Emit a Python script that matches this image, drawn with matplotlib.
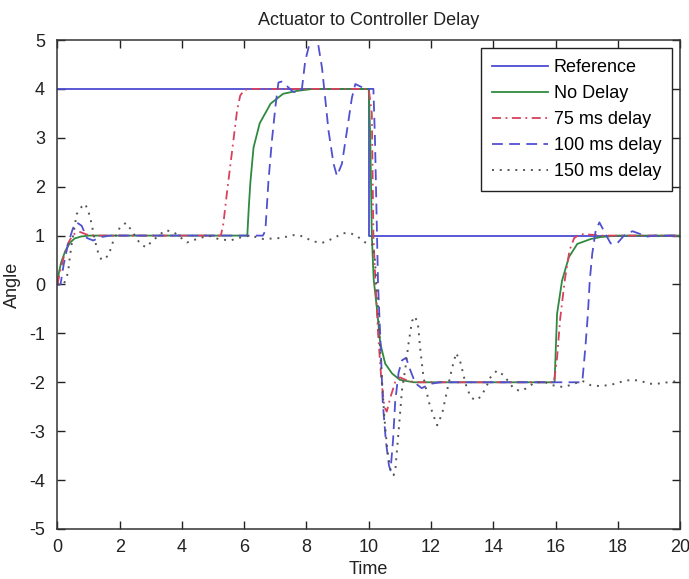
import matplotlib
matplotlib.use("Agg")
import matplotlib.pyplot as plt
import numpy as np

plt.rcParams['font.family'] = ['Liberation Sans', 'DejaVu Sans']
plt.rcParams['axes.unicode_minus'] = False

title = "Actuator to Controller Delay"
xlabel = "Time"
ylabel = "Angle"
labels = ["Reference", "No Delay", "75 ms delay", "100 ms delay", "150 ms delay"]
xticks = [0, 2, 4, 6, 8, 10, 12, 14, 16, 18, 20]
yticks = [-5, -4, -3, -2, -1, 0, 1, 2, 3, 4, 5]

reference = [(0, 4), (10, 4), (10, 1), (20, 1)]

no_delay = [(0, 0), (0.05, 0.25), (0.12, 0.45), (0.25, 0.68), (0.4, 0.85), (0.55, 0.94),
            (0.75, 0.98), (1.0, 1.0), (6.1, 1.0), (6.15, 1.6), (6.2, 2.1), (6.3, 2.8),
            (6.5, 3.3), (6.85, 3.7), (7.25, 3.9), (7.7, 3.96), (8.2, 4.0), (10.0, 4.0),
            (10.05, 3.0), (10.1, 1.0), (10.16, 0.1), (10.27, -0.53), (10.37, -1.2),
            (10.53, -1.62), (10.75, -1.82), (11.0, -1.95), (11.45, -2.0), (15.97, -2.0),
            (16.05, -0.6), (16.21, 0.08), (16.43, 0.56), (16.7, 0.83), (17.13, 0.93),
            (17.45, 0.97), (18.0, 1.0), (20, 1.0)]

delay_75 = [(0, 0), (0.1, 0.3), (0.2, 0.55), (0.35, 0.85), (0.5, 1.02), (0.7, 1.08),
            (0.95, 1.02), (1.2, 1.0), (5.25, 1.0), (5.33, 1.24), (5.45, 1.9), (5.6, 2.67),
            (5.77, 3.55), (5.87, 3.86), (6.0, 3.98), (6.2, 4.0), (10.0, 4.0), (10.1, 3.5),
            (10.15, 1.0), (10.22, 0.0), (10.3, -1.0), (10.4, -1.9), (10.5, -2.5),
            (10.58, -2.6), (10.7, -2.3), (10.85, -2.0), (11.0, -1.9), (11.3, -1.98),
            (11.6, -2.0), (15.95, -2.0), (16.05, -1.5), (16.15, -0.7), (16.3, 0.1),
            (16.45, 0.7), (16.6, 0.95), (16.8, 1.03), (17.1, 1.02), (17.5, 1.0), (20, 1.0)]

delay_100 = [(0, 0), (0.1, 0.0), (0.2, 0.4), (0.35, 0.85), (0.5, 1.15), (0.62, 1.27),
             (0.78, 1.2), (0.95, 0.95), (1.15, 0.9), (1.4, 0.97), (1.7, 1.0), (6.6, 1.0),
             (6.68, 1.1), (6.78, 2.12), (6.89, 2.94), (7.0, 3.62), (7.1, 4.13), (7.2, 4.15),
             (7.37, 4.06), (7.55, 3.95), (7.7, 3.92), (7.85, 3.98), (7.96, 4.57),
             (8.12, 4.98), (8.25, 5.1), (8.38, 4.9), (8.5, 4.43), (8.6, 3.82), (8.71, 3.14),
             (8.87, 2.47), (8.98, 2.22), (9.14, 2.47), (9.3, 3.14), (9.46, 3.82),
             (9.57, 4.1), (9.73, 4.05), (9.9, 4.0), (10.15, 4.0), (10.2, 3.0), (10.25, 1.5),
             (10.3, 0.0), (10.38, -1.2), (10.45, -2.4), (10.55, -3.2), (10.65, -3.7),
             (10.7, -3.8), (10.78, -3.2), (10.85, -2.4), (10.96, -1.8), (11.07, -1.55),
             (11.2, -1.5), (11.34, -1.76), (11.5, -2.02), (11.7, -2.12), (12.0, -2.03),
             (12.3, -2.0), (16.8, -2.0), (16.86, -1.99), (16.96, -1.28), (17.04, -0.6),
             (17.1, 0.08), (17.18, 0.63), (17.29, 1.1), (17.41, 1.27), (17.55, 1.1),
             (17.77, 0.84), (17.98, 0.84), (18.2, 1.0), (18.47, 1.09), (18.73, 1.03),
             (18.95, 0.98), (19.2, 1.0), (20, 1.0)]

delay_150 = [(0, 0), (0.2, 0.0), (0.3, 0.15), (0.35, 0.29), (0.4, 0.56), (0.46, 0.83),
             (0.62, 1.44), (0.78, 1.59), (0.89, 1.65), (0.99, 1.51), (1.1, 1.24),
             (1.16, 1.04), (1.26, 0.76), (1.32, 0.63), (1.42, 0.5), (1.64, 0.59),
             (1.8, 0.9), (2.01, 1.17), (2.2, 1.26), (2.39, 1.1), (2.66, 0.83), (2.85, 0.76),
             (3.03, 0.88), (3.46, 1.11), (3.72, 1.08), (4.16, 0.86), (4.48, 0.93),
             (4.85, 1.0), (5.17, 0.93), (5.55, 0.9), (5.87, 0.96), (6.2, 1.0), (6.62, 0.93),
             (7.16, 0.95), (7.59, 1.01), (7.8, 1.0), (8.23, 0.88), (8.5, 0.85), (8.71, 0.9),
             (9.19, 1.05), (9.41, 1.05), (9.62, 0.99), (9.89, 0.86), (10.1, 0.84),
             (10.2, 0.5), (10.3, -0.5), (10.4, -1.7), (10.5, -2.7), (10.6, -3.4),
             (10.7, -3.8), (10.8, -3.9), (10.86, -3.75), (10.96, -3.0), (11.07, -2.15),
             (11.18, -1.7), (11.28, -1.2), (11.39, -0.75), (11.48, -0.65), (11.58, -0.8),
             (11.66, -1.35), (11.76, -1.9), (11.93, -2.4), (12.09, -2.7), (12.2, -2.88),
             (12.36, -2.64), (12.52, -2.16), (12.68, -1.7), (12.81, -1.4), (12.95, -1.6),
             (13.11, -2.03), (13.27, -2.3), (13.43, -2.37), (13.59, -2.3), (13.75, -2.13),
             (13.91, -1.9), (14.12, -1.76), (14.34, -1.86), (14.66, -2.13), (14.87, -2.18),
             (15.04, -2.13), (15.3, -2.02), (15.6, -1.98), (15.9, -2.06), (16.27, -2.1),
             (16.86, -1.97), (17.13, -2.06), (17.45, -2.08), (17.66, -2.06), (17.93, -2.03),
             (18.2, -1.97), (18.47, -1.95), (18.73, -1.97), (19.0, -2.03), (19.27, -2.03),
             (19.48, -2.01), (20.0, -1.97)]

series = [reference, no_delay, delay_75, delay_100, delay_150]
colors = ["#4b4bd2", "#2f8a3f", "#d8405c", "#5050d0", "#555555"]
styles = [dict(linestyle="-", linewidth=1.3),
          dict(linestyle="-", linewidth=1.3),
          dict(linestyle=(0, (5, 2.5, 1, 2.5)), linewidth=1.3),
          dict(linestyle=(0, (6, 3.5)), linewidth=1.3),
          dict(linestyle=(0, (1, 3)), linewidth=1.4)]

fig = plt.figure(figsize=(6.89, 5.79), dpi=100)
ax = fig.add_axes([0.0833, 0.0864, 0.9037, 0.8445])

for data, c, st, lab in zip(series, colors, styles, labels):
    t = [p[0] for p in data]
    y = [p[1] for p in data]
    ax.plot(t, y, color=c, label=lab, **st)

ax.set_xlim(0, 20)
ax.set_ylim(-5, 5)
ax.set_xticks(xticks)
ax.set_yticks(yticks)
ax.tick_params(direction="in", length=6, width=1, top=True, right=True,
               labelsize=13, colors="#222222")
ax.tick_params(axis="x", pad=7)
ax.tick_params(axis="y", pad=9)
for sp in ax.spines.values():
    sp.set_linewidth(1.1)
    sp.set_color("#333333")

ax.set_title(title, fontsize=13, pad=11, color="#222222")
ax.set_xlabel(xlabel, fontsize=13, labelpad=4, color="#222222")
ax.set_ylabel(ylabel, fontsize=13, labelpad=6, color="#222222")

leg = ax.legend(loc="upper right", fontsize=13, handlelength=3.1, labelspacing=0.5,
                handletextpad=0.3, borderpad=0.6, borderaxespad=0.45,
                fancybox=False, framealpha=1, edgecolor="#222222")
leg.get_frame().set_linewidth(1.0)

fig.savefig("out.png", dpi=100)
